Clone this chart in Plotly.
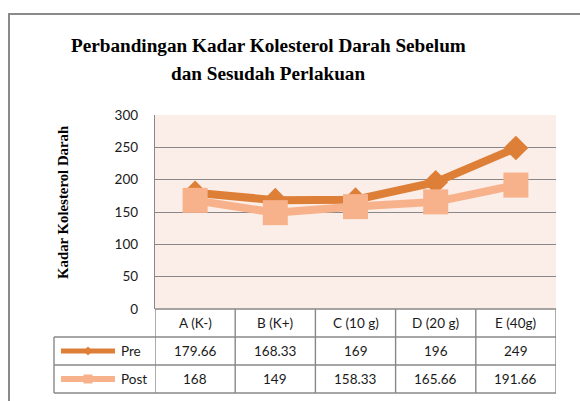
import plotly.graph_objects as go

categories = ["A (K-)", "B (K+)", "C (10 g)", "D (20 g)", "E (40g)"]
pre_values = [179.66, 168.33, 169, 196, 249]
post_values = [168, 149, 158.33, 165.66, 191.66]
series_names = ["Pre", "Post"]
title_lines = ["Perbandingan Kadar Kolesterol Darah Sebelum", "dan Sesudah Perlakuan"]
y_title = "Kadar Kolesterol Darah"
y_ticks = [0, 50, 100, 150, 200, 250, 300]

PRE_COLOR = "#DE7F38"
POST_COLOR = "#F7B28C"
GRID = "#888888"
W, H = 580, 401
ML, MR, MT, MB = 155, 24, 115, 92
PW = W - ML - MR
PH = H - MT - MB

def px_x(px):
    return (px - ML) / PW

def px_y(py):
    return (H - MB - py) / PH

fig = go.Figure()
x_idx = list(range(len(categories)))
fig.add_trace(go.Scatter(x=x_idx, y=pre_values, mode="lines+markers", name=series_names[0],
                         line=dict(color=PRE_COLOR, width=8),
                         marker=dict(symbol="diamond", size=19, color=PRE_COLOR)))
fig.add_trace(go.Scatter(x=x_idx, y=post_values, mode="lines+markers", name=series_names[1],
                         line=dict(color=POST_COLOR, width=8),
                         marker=dict(symbol="square", size=25, color=POST_COLOR)))

shapes = []
annotations = []
tfont = dict(family="Lato, Noto Sans, sans-serif", size=13.5, color="#1a1a1a")

# outer chart border (right/bottom edges fall outside the picture)
shapes.append(dict(type="rect", xref="paper", yref="paper", x0=px_x(9), x1=px_x(620),
                   y0=px_y(430), y1=px_y(14), line=dict(color="#8A8A8A", width=2), layer="below"))

row_tops = [309, 337, 365, 393]
tbl_left = 54
lc = dict(color=GRID, width=1.4)
n = len(categories)
shapes.append(dict(type="line", xref="x", yref="paper", x0=-0.5, x1=n - 0.5,
                   y0=px_y(row_tops[0]), y1=px_y(row_tops[0]), line=lc))
for r in row_tops[1:]:
    shapes.append(dict(type="line", xref="paper", yref="paper", x0=px_x(tbl_left), x1=1,
                       y0=px_y(r), y1=px_y(r), line=lc))
for i in range(n + 1):
    shapes.append(dict(type="line", xref="x", yref="paper", x0=i - 0.5, x1=i - 0.5,
                       y0=px_y(row_tops[0]), y1=px_y(row_tops[-1]), line=lc))
shapes.append(dict(type="line", xref="paper", yref="paper", x0=px_x(tbl_left), x1=px_x(tbl_left),
                   y0=px_y(row_tops[1]), y1=px_y(row_tops[-1]), line=lc))

hy = px_y((row_tops[0] + row_tops[1]) / 2)
for i, c in enumerate(categories):
    annotations.append(dict(x=i, y=hy, xref="x", yref="paper", text=c, showarrow=False,
                            font=tfont, xanchor="center", yanchor="middle"))

series = [(series_names[0], pre_values, PRE_COLOR, "diamond"),
          (series_names[1], post_values, POST_COLOR, "square")]
for k, (nm, vals, col, sym) in enumerate(series):
    yc_px = (row_tops[k + 1] + row_tops[k + 2]) / 2
    yc = px_y(yc_px)
    for i, v in enumerate(vals):
        annotations.append(dict(x=i, y=yc, xref="x", yref="paper", text=f"{v:g}", showarrow=False,
                                font=tfont, xanchor="center", yanchor="middle"))
    annotations.append(dict(x=px_x(119), y=yc, xref="paper", yref="paper", text=nm, showarrow=False,
                            font=tfont, xanchor="left", yanchor="middle"))
    shapes.append(dict(type="line", xref="paper", yref="paper", x0=px_x(61), x1=px_x(115),
                       y0=yc, y1=yc, line=dict(color=col, width=5 if k == 0 else 6)))
    cx = 88
    s = 4.5
    if sym == "diamond":
        path = (f"M {px_x(cx - s)} {px_y(yc_px)} L {px_x(cx)} {px_y(yc_px - s)} "
                f"L {px_x(cx + s)} {px_y(yc_px)} L {px_x(cx)} {px_y(yc_px + s)} Z")
        shapes.append(dict(type="path", xref="paper", yref="paper", path=path,
                           fillcolor=col, line=dict(color=col, width=0)))
    else:
        shapes.append(dict(type="rect", xref="paper", yref="paper", x0=px_x(cx - s), x1=px_x(cx + s),
                           y0=px_y(yc_px + s), y1=px_y(yc_px - s),
                           fillcolor=col, line=dict(color=col, width=0)))

tf = dict(family="Liberation Serif, Times New Roman, serif", size=19.2, color="#000000")
annotations.append(dict(x=px_x(268), y=px_y(46), xref="paper", yref="paper", text=f"<b>{title_lines[0]}</b>",
                        showarrow=False, font=tf, xanchor="center", yanchor="middle"))
annotations.append(dict(x=px_x(268), y=px_y(73), xref="paper", yref="paper", text=f"<b>{title_lines[1]}</b>",
                        showarrow=False, font=tf, xanchor="center", yanchor="middle"))
annotations.append(dict(x=px_x(63), y=px_y(203), xref="paper", yref="paper", text=f"<b>{y_title}</b>",
                        showarrow=False, textangle=-90,
                        font=dict(family="Liberation Serif, Times New Roman, serif", size=14.8, color="#000000"),
                        xanchor="center", yanchor="middle"))

fig.update_layout(
    width=W, height=H,
    margin=dict(l=ML, r=MR, t=MT, b=MB, pad=0),
    paper_bgcolor="white",
    plot_bgcolor="#FBEDE7",
    showlegend=False,
    shapes=shapes,
    annotations=annotations,
    xaxis=dict(range=[-0.5, n - 0.5], showticklabels=False, showgrid=False, zeroline=False,
               showline=False, fixedrange=True),
    yaxis=dict(range=[0, 300], tickvals=y_ticks, ticktext=[str(t) for t in y_ticks],
               showgrid=True, gridcolor=GRID, gridwidth=1.4, zeroline=False,
               showline=True, linecolor=GRID, linewidth=1.4,
               ticks="outside", ticklen=13, tickcolor="rgba(0,0,0,0)",
               tickfont=tfont, fixedrange=True),
)

fig.write_html("out.html", config={"displayModeBar": False},
               post_script="document.body.style.margin='0';document.body.style.overflow='hidden';")
